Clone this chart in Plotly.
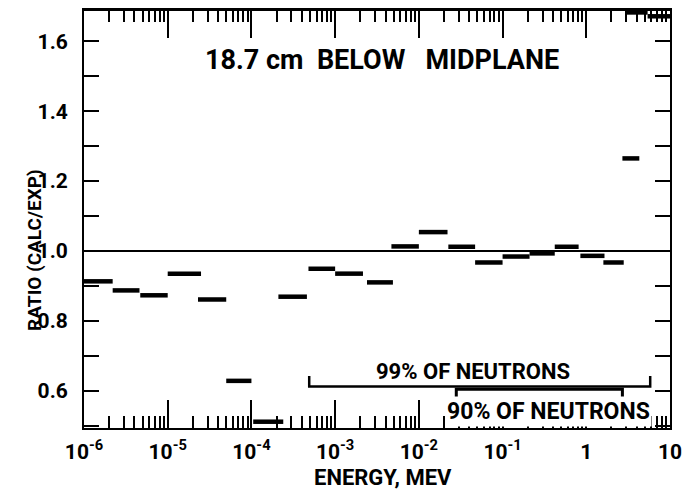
import plotly.graph_objects as go
import math

# Energy group edges (MeV) and calc/exp ratios
e_lo = [1.0e-6, 2.2e-6, 4.7e-6, 1.0e-5, 2.3e-5, 5.0e-5, 1.05e-4, 2.1e-4, 4.8e-4,
        1.0e-3, 2.4e-3, 4.7e-3, 1.0e-2, 2.25e-2, 4.7e-2, 1.0e-1, 2.1e-1, 4.2e-1,
        8.5e-1, 1.6, 2.7, 2.9, 5.4]
e_hi = [2.2e-6, 4.6e-6, 1.0e-5, 2.5e-5, 5.0e-5, 1.0e-4, 2.4e-4, 4.6e-4, 1.0e-3,
        2.15e-3, 4.9e-3, 1.0e-2, 2.2e-2, 4.7e-2, 1.0e-1, 2.1e-1, 4.2e-1, 8.1e-1,
        1.65, 2.8, 4.3, 5.4, 10.0]
ratio = [0.913, 0.887, 0.873, 0.935, 0.861, 0.628, 0.511, 0.869, 0.949,
         0.935, 0.910, 1.013, 1.054, 1.012, 0.967, 0.984, 0.993, 1.012,
         0.986, 0.967, 1.265, 1.683, 1.672]

# Coverage brackets (MeV)
pct99_range = [4.9e-4, 5.8]
pct90_range = [2.8e-2, 2.7]
pct99_y = 0.612
pct90_y = 0.604

x_tickvals = [1e-6, 1e-5, 1e-4, 1e-3, 1e-2, 1e-1, 1, 10]
x_ticktext = ["10<sup>-6</sup>", "10<sup>-5</sup>", "10<sup>-4</sup>", "10<sup>-3</sup>",
              "10<sup>-2</sup>", "10<sup>-1</sup>", "1", "10"]
y_tickvals = [0.6, 0.8, 1.0, 1.2, 1.4, 1.6]
y_ticktext = ["0.6", "0.8", "1.0", "1.2", "1.4", "1.6"]

FONT = "Roboto, Liberation Sans, sans-serif"

xs, ys = [], []
for a, b, r in zip(e_lo, e_hi, ratio):
    xs += [a, b, None]
    ys += [r, r, None]

fig = go.Figure()
fig.add_trace(go.Scatter(x=xs, y=ys, mode="lines",
                         line=dict(color="black", width=4.5), showlegend=False,
                         hoverinfo="skip"))

# 99% bracket
fig.add_trace(go.Scatter(
    x=[pct99_range[0], pct99_range[0], pct99_range[1], pct99_range[1]],
    y=[pct99_y + 0.03, pct99_y, pct99_y, pct99_y + 0.03],
    mode="lines", line=dict(color="black", width=2.5), showlegend=False, hoverinfo="skip"))
# 90% bracket
fig.add_trace(go.Scatter(
    x=[pct90_range[0], pct90_range[0], pct90_range[1], pct90_range[1]],
    y=[pct90_y - 0.025, pct90_y, pct90_y, pct90_y - 0.025],
    mode="lines", line=dict(color="black", width=3), showlegend=False, hoverinfo="skip"))

# reference line at 1.0
fig.add_shape(type="line", xref="paper", yref="y", x0=0, x1=1, y0=1.0, y1=1.0,
              line=dict(color="black", width=2))
# top frame edge
fig.add_shape(type="line", xref="paper", yref="paper", x0=0, x1=1, y0=1, y1=1,
              line=dict(color="black", width=2))

fig.update_xaxes(type="log", range=[-6, 1], showline=True, linecolor="black", linewidth=2,
                 mirror="allticks", ticks="inside", ticklen=28, tickwidth=2, tickcolor="black",
                 tickvals=x_tickvals, ticktext=x_ticktext, showgrid=False, zeroline=False,
                 automargin=False, ticklabelstandoff=4,
                 tickfont=dict(family=FONT, size=21, color="black", weight="bold"),
                 minor=dict(ticks="inside", ticklen=12, tickwidth=1.5, tickcolor="black",
                            dtick="D1", showgrid=False))
fig.update_yaxes(range=[0.493, 1.690], showline=True, linecolor="black", linewidth=2,
                 mirror="allticks", ticks="inside", ticklen=15, tickwidth=2, tickcolor="black",
                 tickvals=y_tickvals, ticktext=y_ticktext, showgrid=False, zeroline=False,
                 automargin=False, ticklabelstandoff=10,
                 tickfont=dict(family=FONT, size=21, color="black", weight="bold"),
                 minor=dict(ticks="inside", ticklen=15, tickwidth=2, tickcolor="black",
                            dtick=0.1, tick0=0.5, showgrid=False))

fig.add_annotation(text="18.7 cm  BELOW   MIDPLANE", xref="paper", yref="paper",
                   x=0.5085, y=0.880, xanchor="center", yanchor="middle", showarrow=False,
                   font=dict(family=FONT, size=27, color="black", weight="bold"))
fig.add_annotation(text="99% OF NEUTRONS", xref="x", yref="y",
                   x=math.log10(4.45e-2), y=0.656, xanchor="center", yanchor="middle",
                   showarrow=False,
                   font=dict(family=FONT, size=22, color="black", weight="bold"))
fig.add_annotation(text="90% OF NEUTRONS", xref="x", yref="y",
                   x=math.log10(0.35), y=0.54, xanchor="center", yanchor="middle",
                   showarrow=False, bgcolor="white", borderpad=1,
                   font=dict(family=FONT, size=23, color="black", weight="bold"))
fig.add_annotation(text="RATIO (CALC/EXP)", xref="paper", yref="paper",
                   x=-0.0836, y=0.426, xanchor="center", yanchor="middle",
                   showarrow=False, textangle=-90,
                   font=dict(family=FONT, size=19, color="black", weight="bold"))
fig.add_annotation(text="ENERGY, MEV", xref="paper", yref="paper",
                   x=0.51, y=-0.119, xanchor="center", yanchor="middle", showarrow=False,
                   font=dict(family=FONT, size=22, color="black", weight="bold"))

# page body adds an 8px offset; size figure so it fits the 691x495 window
fig.update_layout(width=683, height=487, autosize=False,
                  margin=dict(l=76, r=21, t=2, b=67),
                  plot_bgcolor="white", paper_bgcolor="white")

fig.write_html("out.html")
